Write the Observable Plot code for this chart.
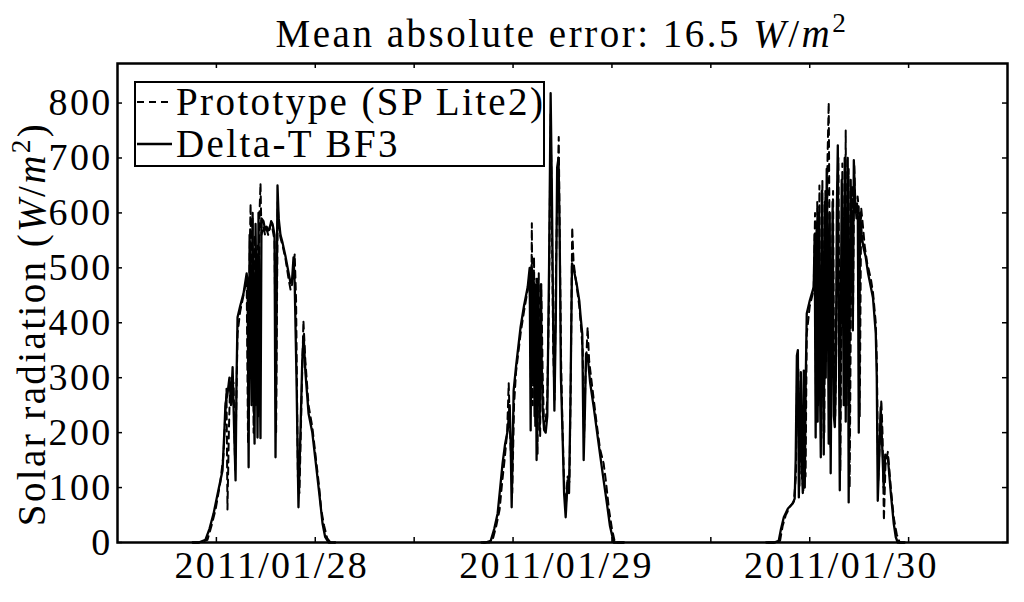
<!DOCTYPE html>
<html>
<head>
<meta charset="utf-8">
<script src="https://cdn.jsdelivr.net/npm/d3@7"></script>
<script src="https://cdn.jsdelivr.net/npm/@observablehq/plot@0.6"></script>
<style>
  body { margin: 0; background: #fff; }
  #wrap { position: relative; width: 1024px; height: 602px; color: #000; overflow: hidden; font-family: "Liberation Serif", serif; }
  #title { position: absolute; left: 117px; width: 890px; top: 14px; text-align: center; font-size: 39px; line-height: 39px; letter-spacing: 2.5px; white-space: nowrap; }
  #ylab { position: absolute; left: 34px; top: 324px; transform: translate(-50%, -50%) rotate(-90deg); font-size: 39px; line-height: 39px; letter-spacing: 2.4px; white-space: nowrap; }
  .sup { font-size: 0.7em; position: relative; top: -0.55em; }
  #legend { position: absolute; left: 134px; top: 81px; width: 411px; height: 86px; box-sizing: border-box; border: 2.5px solid #000; background: #fff; font-size: 39px; letter-spacing: 2.4px; }
  .row { position: absolute; left: 0; height: 42px; line-height: 42px; white-space: nowrap; }
  .row svg { position: absolute; left: 0; top: 0; }
  .row span.t { position: absolute; left: 40px; top: 0; }
</style>
</head>
<body>
<div id="wrap">
  <div id="chart"></div>
  <div id="title">Mean absolute error: 16.5 <i>W</i>/<i>m</i><span class="sup">2</span></div>
  <div id="ylab">Solar radiation (<i>W</i>/<i>m</i><span class="sup">2</span>)</div>
  <div id="legend">
    <div class="row" style="top:-2px"><svg width="40" height="42"><line x1="1" x2="36" y1="21" y2="21" stroke="#000" stroke-width="2" stroke-dasharray="7,5"/></svg><span class="t">Prototype (SP Lite2)</span></div>
    <div class="row" style="top:40px"><svg width="40" height="42"><line x1="1" x2="36" y1="21" y2="21" stroke="#000" stroke-width="2.3"/></svg><span class="t">Delta-T BF3</span></div>
  </div>
</div>
<script>
// x = 10-minute sample number since 2011/01/28 00:00, y = W/m²
const dayLabels = ["2011/01/28", "2011/01/29", "2011/01/30"];
const dayLabelSamples = [78, 222, 366];
const minorTickSamples = [50, 100, 150, 200, 250, 300, 350, 400];
const yTickValues = [0, 100, 200, 300, 400, 500, 600, 700, 800];

// Delta-T BF3 (solid)
const bf3Jan28 = [[38,0],[41,0],[44.5,5],[46.5,25],[48.6,53],[51,95],[53.1,131],[54,200],[54.6,253],[55.6,270],[56.6,300],[57.4,250],[58.2,319],[59,200],[59.7,113],[60.2,300],[60.7,410],[62,430],[63.7,453],[65.3,490],[65.8,472],[66.3,137],[66.8,560],[67.3,420],[67.8,250],[68.3,600],[68.8,300],[69.3,180],[69.8,580],[70.3,420],[70.8,191],[71.3,600],[71.8,350],[72.3,190],[72.8,590],[73.8,585],[74.6,570],[75.4,575],[76.2,568],[76.9,570],[77.7,585],[78.4,580],[79.4,560],[79.9,155],[80.9,650],[81.5,590],[82.4,560],[83.5,545],[85,520],[86.3,495],[87.5,472],[88.3,480],[89,519],[89.6,470],[90.5,300],[91.5,64],[92.5,200],[93.4,330],[94.1,377],[95,310],[96.6,235],[98.5,200],[100.1,150],[102,90],[103.7,34],[105,10],[106.7,0],[110,0]];
const bf3Jan29 = [[184,0],[186,0],[188.7,3],[190.5,25],[192.2,53],[193.5,100],[194.7,144],[196,180],[197.3,204],[198.3,250],[198.8,180],[199.3,64],[200.3,277],[201.5,320],[203.8,392],[205.5,430],[207.4,465],[208.4,500],[208.9,204],[209.4,505],[209.9,300],[210.4,490],[210.9,230],[211.4,470],[211.9,150],[212.4,480],[213.4,204],[214,470],[214.5,320],[215,240],[215.7,205],[216.5,200],[217.3,230],[218.2,500],[219,818],[219.6,650],[220.3,400],[220.9,240],[221.6,400],[222.3,683],[223,700],[223.6,550],[224.2,300],[225,200],[225.8,90],[226.6,46],[227.6,113],[228.3,90],[229,250],[229.8,508],[230.5,500],[232.2,470],[233.5,440],[234.2,410],[235,380],[235.7,150],[236.4,250],[236.9,344],[237.7,340],[239,290],[240.8,246],[242.5,200],[244,160],[245.8,113],[247.5,70],[249,30],[250.9,0],[256,0]];
const bf3Jan30 = [[328,0],[332,0],[334.3,3],[335.5,25],[336.9,46],[339,62],[341.4,71],[342.4,80],[342.9,150],[343.5,340],[344,350],[344.5,82],[345,200],[345.5,310],[346,150],[346.5,90],[347,313],[347.5,100],[348,300],[348.5,417],[350,440],[352,465],[352.5,560],[353,191],[353.5,580],[354,220],[354.6,600],[355.1,320],[355.6,155],[356.1,640],[356.6,400],[357.1,160],[357.6,620],[358.1,300],[358.6,680],[359.1,500],[359.6,180],[360.1,600],[360.6,126],[361.1,400],[361.6,620],[362.2,230],[362.7,210],[363.2,300],[363.7,600],[364.2,723],[364.7,400],[365.2,95],[365.7,400],[366.2,660],[366.7,500],[367.2,250],[367.7,700],[368.2,220],[368.7,480],[369.2,700],[369.7,73],[370.2,400],[370.7,660],[371.3,500],[371.8,386],[372.3,696],[372.8,640],[373.3,600],[373.8,615],[374.3,610],[374.8,200],[375.5,600],[376.3,560],[377,540],[378.3,520],[379.5,490],[380.9,465],[382,445],[383.4,380],[383.9,300],[384.4,76],[385.1,150],[385.9,246],[386.6,180],[387.4,100],[388.2,160],[389.5,155],[391,90],[392.5,34],[393.5,10],[394.5,0],[398,0]];

// Prototype (SP Lite2) (dashed)
const protoJan28 = [[38,0],[42,0],[45.5,5],[47.5,30],[49.6,60],[52,110],[53.6,160],[54.6,240],[55.1,280],[55.6,60],[56.3,200],[56.8,270],[57.6,300],[58.7,290],[59.5,130],[60.7,380],[62,420],[63.7,450],[65.3,480],[66,180],[66.8,520],[67.3,617],[67.8,300],[68.3,590],[68.8,200],[69.5,560],[70,250],[70.8,540],[71.3,230],[71.8,600],[72.3,654],[72.8,560],[73.8,575],[74.6,560],[75.4,570],[76.2,560],[76.9,575],[77.7,580],[78.4,570],[79.4,550],[80.2,200],[81,620],[81.5,580],[82.4,555],[83.5,540],[85,515],[86.5,480],[87.5,460],[88.3,470],[89.6,525],[90.3,440],[91.2,120],[92,90],[93,250],[94,404],[95,330],[96.6,250],[98.5,210],[100.1,160],[102,100],[103,60],[104.5,30],[106,8],[107.7,0],[110,0]];
const protoJan29 = [[185,0],[188,0],[189.7,5],[191.5,30],[193.2,60],[194.5,110],[195.7,150],[197,200],[197.8,290],[198.5,200],[199.6,90],[200.5,250],[201.5,310],[203.8,380],[205.5,420],[207.4,460],[208.4,480],[209,300],[209.5,581],[210,250],[210.6,520],[211.2,210],[211.8,480],[212.4,160],[213,490],[213.7,190],[214.3,470],[215,300],[215.7,210],[216.5,220],[217.3,260],[218.2,450],[219,780],[219.6,600],[220.3,350],[221,260],[221.7,500],[222.5,650],[223.1,738],[223.6,560],[224.3,330],[225,210],[225.8,110],[226.6,60],[227.6,120],[228.5,110],[229.2,300],[229.9,574],[230.6,510],[232.2,465],[233.5,430],[234.2,400],[235.2,350],[235.9,190],[236.6,300],[237.7,392],[238.5,330],[240.8,260],[242.5,210],[244,170],[245.8,144],[247,110],[248.5,60],[250,25],[251.5,0],[256,0]];
const protoJan30 = [[329,0],[333,0],[335,3],[336.3,30],[337.9,50],[340,65],[342,75],[343,120],[343.6,300],[344.2,320],[344.8,100],[345.4,280],[346,120],[346.8,95],[347.3,290],[347.9,120],[348.5,380],[350,430],[352,460],[352.7,600],[353.2,230],[353.8,620],[354.3,250],[354.9,650],[355.4,300],[355.9,190],[356.4,660],[356.9,420],[357.4,200],[357.9,640],[358.4,330],[359,700],[359.6,801],[360.1,520],[360.6,170],[361.1,450],[361.8,640],[362.4,260],[362.9,230],[363.4,350],[364,640],[364.5,700],[365,380],[365.5,130],[366,420],[366.5,690],[367,520],[367.5,280],[368.2,750],[368.7,250],[369.2,500],[369.7,680],[370.2,100],[370.8,420],[371.4,650],[371.9,420],[372.5,690],[373,620],[373.6,590],[374.2,630],[374.8,610],[375.3,230],[376,610],[376.8,580],[377.8,540],[379,510],[380.9,480],[382,455],[383.4,400],[384,320],[384.6,110],[385.4,180],[386.2,260],[386.8,200],[387.5,40],[388.3,140],[389.5,165],[391,100],[392.5,45],[394,15],[395.5,0],[398,0]];

const toRows = (arr, day) => arr.map(([i, v]) => ({i, v, day}));
const bf3 = [...toRows(bf3Jan28, 0), ...toRows(bf3Jan29, 1), ...toRows(bf3Jan30, 2)];
const proto = [...toRows(protoJan28, 0), ...toRows(protoJan29, 1), ...toRows(protoJan30, 2)];

const W = 1024, H = 602, mL = 117, mR = 17, mT = 63, mB = 60;
const fw = W - mL - mR, fh = H - mT - mB;
const tick = 5;

const chart = Plot.plot({
  width: W, height: H,
  marginLeft: mL, marginRight: mR, marginTop: mT, marginBottom: mB,
  style: {fontFamily: "Liberation Serif, serif", fontSize: "38px", letterSpacing: "2.3px", background: "white", color: "black"},
  x: {domain: [0, 450], axis: null},
  y: {domain: [0, 872], axis: null},
  marks: [
    Plot.line(proto, {x: "i", y: "v", z: "day", stroke: "black", strokeWidth: 2, strokeDasharray: "7,5", strokeLinejoin: "round"}),
    Plot.line(bf3, {x: "i", y: "v", z: "day", stroke: "black", strokeWidth: 2.3, strokeLinejoin: "round"}),
    Plot.tickY(yTickValues, {y: d => d, stroke: "black", strokeWidth: 1.5, insetRight: fw - tick}),
    Plot.tickY(yTickValues, {y: d => d, stroke: "black", strokeWidth: 1.5, insetLeft: fw - tick}),
    Plot.tickX(minorTickSamples, {x: d => d, stroke: "black", strokeWidth: 1.5, insetTop: fh - tick}),
    Plot.tickX(minorTickSamples, {x: d => d, stroke: "black", strokeWidth: 1.5, insetBottom: fh - tick}),
    Plot.axisY(yTickValues, {anchor: "left", tickSize: 0, tickPadding: 5, fontSize: 38, label: null}),
    Plot.axisX(dayLabelSamples, {anchor: "bottom", tickSize: 0, tickPadding: 9, fontSize: 38, label: null,
      tickFormat: d => dayLabels[dayLabelSamples.indexOf(d)]}),
    Plot.frame({stroke: "black", strokeWidth: 2.5})
  ]
});
document.getElementById("chart").appendChild(chart);
</script>
</body>
</html>
